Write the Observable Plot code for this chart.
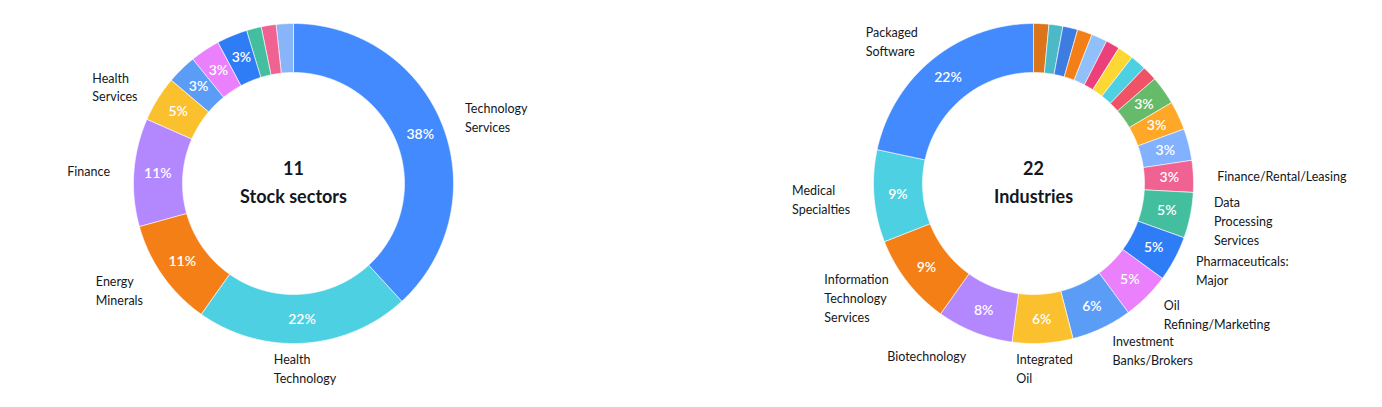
<!DOCTYPE html>
<html><head><meta charset="utf-8">
<script src="https://cdn.jsdelivr.net/npm/d3@7"></script>
<script src="https://cdn.jsdelivr.net/npm/@observablehq/plot@0.6"></script>
<style>body{margin:0;background:#fff;}</style>
</head><body><div id="chart"></div>
<script>
// ---- data ----
const sectorNames = ["Technology Services","Health Technology","Energy Minerals","Finance","Health Services","","","","","",""];
const sectorValues = [38.2, 21.6, 10.9, 10.9, 4.6, 3.0, 3.0, 3.1, 1.5, 1.5, 1.7];
const sectorColors = ["#448AFF","#4DD0E1","#F57F17","#B388FF","#FBC02D","#5B9CF6","#EA80FC","#2E7CF6","#43BFA0","#F06292","#88B4FA"];

const industryNames = ["Packaged Software","Medical Specialties","Information Technology Services","Biotechnology","Integrated Oil","Investment Banks/Brokers","Oil Refining/Marketing","Pharmaceuticals: Major","Data Processing Services","Finance/Rental/Leasing","","","","","","","","","","","",""];
const industryValues = [21.6, 9.3, 9.2, 7.7, 6.1, 6.1, 4.8, 4.6, 4.6, 3.2, 3.2, 2.9, 2.9, 1.5, 1.6, 1.6, 1.4, 1.6, 1.5, 1.5, 1.4, 1.5];
const industryColors = ["#448AFF","#4DD0E1","#F57F17","#B388FF","#FBC02D","#5B9CF6","#EA80FC","#2E7CF6","#43BFA0","#F06292","#82B1FF","#FFA726","#66BB6A","#F05365","#4DD0E1","#FDD835","#EC407A","#90BFF9","#F57F17","#3D7CE0","#4BB9C6","#DB741A"];

const centerCounts = ["11", "22"];
const centerTitles = ["Stock sectors", "Industries"];

// ---- layout ----
const W = 1382, H = 407;
const R0 = 111, R1 = 160, RP = 136, RL = 184;
const NAME_FONT = 12.5;
const donuts = [
  {names: sectorNames, values: sectorValues, colors: sectorColors, cx: 293, cy: 183, dir: 1, count: centerCounts[0], title: centerTitles[0]},
  {names: industryNames, values: industryValues, colors: industryColors, cx: 1033, cy: 183, dir: -1, count: centerCounts[1], title: centerTitles[1]}
];

const ctx = document.createElement("canvas").getContext("2d");
ctx.font = NAME_FONT + "px Lato, sans-serif";
const blockWidth = (lines) => d3.max(lines, l => ctx.measureText(l).width);

const polys = [], pcts = [], names = [], centers = [];
donuts.forEach((d, di) => {
  const total = d3.sum(d.values);
  let cum = 0;
  const pt = (a, r) => ({x: d.cx + r * Math.sin(a), y: d.cy - r * Math.cos(a)});
  d.values.forEach((v, i) => {
    const a0 = d.dir * cum / total * 2 * Math.PI;
    cum += v;
    const a1 = d.dir * cum / total * 2 * Math.PI;
    const n = Math.max(2, Math.ceil(Math.abs(a1 - a0) / (Math.PI / 360)));
    const key = di + "-" + i;
    for (let k = 0; k <= n; k++) { const a = a0 + (a1 - a0) * k / n; polys.push({key, color: d.colors[i], ...pt(a, R1)}); }
    for (let k = n; k >= 0; k--) { const a = a0 + (a1 - a0) * k / n; polys.push({key, color: d.colors[i], ...pt(a, R0)}); }
    const mid = (a0 + a1) / 2;
    const pctVal = v / total * 100;
    if (pctVal >= 2.5) pcts.push({text: Math.round(pctVal) + "%", ...pt(mid, RP)});
    if (d.names[i]) {
      const s = Math.sin(mid);
      const lines = d.names[i].split(" ");
      const w = blockWidth(lines);
      const p = pt(mid, RL);
      const shift = Math.abs(s) < 0.2 ? w / 2 : (s > 0 ? 0 : w);
      names.push({text: lines.join("\n"), x: p.x - shift, y: p.y});
    }
  });
  centers.push({x: d.cx, y: d.cy - 14, text: d.count});
  centers.push({x: d.cx, y: d.cy + 14, text: d.title});
});

const chart = Plot.plot({
  width: W, height: H, margin: 0,
  x: {domain: [0, W], range: [0, W], axis: null},
  y: {domain: [0, H], range: [0, H], axis: null},
  color: {type: "identity"},
  style: {fontFamily: "Lato, sans-serif", background: "white"},
  marks: [
    Plot.line(polys, {x: "x", y: "y", z: "key", fill: "color", stroke: "white", strokeWidth: 0.6, curve: "linear-closed"}),
    Plot.text(pcts, {x: "x", y: "y", text: "text", fill: "white", fontSize: 14, fontWeight: 600}),
    Plot.text(names, {x: "x", y: "y", text: "text", textAnchor: "start", lineAnchor: "middle",
      lineHeight: 1.5, fontSize: NAME_FONT, fill: "#131722"}),
    Plot.text(centers, {x: "x", y: "y", text: "text", fill: "#131722", fontSize: 18, fontWeight: 700})
  ]
});
document.getElementById("chart").appendChild(chart);
</script>
</body></html>
